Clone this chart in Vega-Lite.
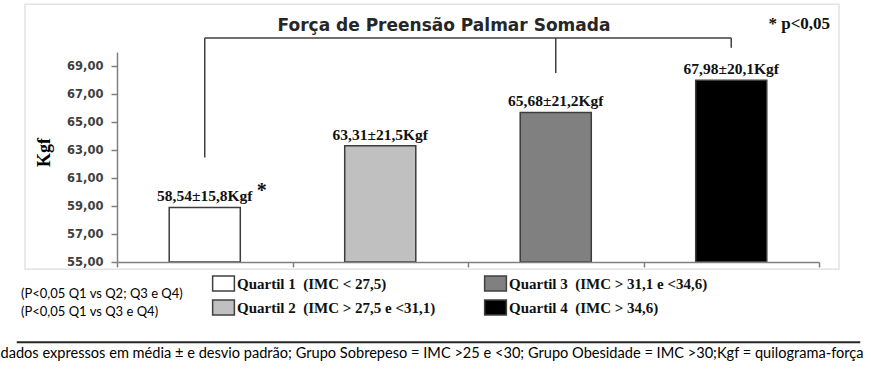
{
  "$schema": "https://vega.github.io/schema/vega-lite/v6.json",
  "width": 702,
  "height": 210,
  "autosize": {"type": "none"},
  "padding": {"left": 117, "top": 52, "right": 53, "bottom": 109},
  "background": "white",
  "config": {"view": {"stroke": null}, "font": "Liberation Serif"},
  "title": {
    "text": "Força de Preensão Palmar Somada",
    "font": "DejaVu Sans",
    "fontSize": 17,
    "fontWeight": "bold",
    "color": "#262626",
    "anchor": "middle",
    "dx": -24,
    "dy": 27,
    "offset": -17,
    "baseline": "alphabetic"
  },
  "datasets": {
    "bars": [
      {"quartil": "Quartil 1", "legenda": "Quartil 1\u2002(IMC < 27,5)", "media": 58.9, "rotulo": "58,54±15,8Kgf", "sig": "*"},
      {"quartil": "Quartil 2", "legenda": "Quartil 2\u2002(IMC > 27,5 e <31,1)", "media": 63.31, "rotulo": "63,31±21,5Kgf", "sig": ""},
      {"quartil": "Quartil 3", "legenda": "Quartil 3\u2002(IMC > 31,1 e <34,6)", "media": 65.68, "rotulo": "65,68±21,2Kgf", "sig": ""},
      {"quartil": "Quartil 4", "legenda": "Quartil 4\u2002(IMC > 34,6)", "media": 67.98, "rotulo": "67,98±20,1Kgf", "sig": ""}
    ],
    "moldura": [
      {"de": "Quartil 1", "ate": "Quartil 4", "topo": 73.41, "base": 54.48}
    ],
    "chave_h": [
      {"de": "Quartil 1", "ate": "Quartil 4", "nivel": 71.0}
    ],
    "chave_v": [
      {"q": "Quartil 1", "base": 62.47, "topo": 71.0},
      {"q": "Quartil 3", "base": 68.5, "topo": 71.0},
      {"q": "Quartil 4", "base": 70.3, "topo": 71.0}
    ],
    "nota_p": [
      {"q": "Quartil 4", "nivel": 71.66, "texto": "* p<0,05"}
    ],
    "separador": [
      {"de": "Quartil 1", "ate": "Quartil 4", "nivel": 49.26}
    ]
  },
  "layer": [
    {
      "data": {"name": "moldura"},
      "mark": {"type": "rect", "fill": null, "stroke": "#e2e2e2", "strokeWidth": 1.5, "xOffset": -92, "x2Offset": 20},
      "encoding": {
        "x": {"field": "de", "type": "nominal", "bandPosition": 0},
        "x2": {"field": "ate", "bandPosition": 1},
        "y": {"field": "topo", "type": "quantitative"},
        "y2": {"field": "base"}
      }
    },
    {
      "data": {"name": "bars"},
      "mark": {"type": "bar", "width": {"band": 0.405}, "stroke": "#3c3c3c", "strokeWidth": 1.5},
      "encoding": {
        "x": {
          "field": "quartil",
          "type": "nominal",
          "scale": {"paddingInner": 0, "paddingOuter": 0},
          "axis": {
            "labels": false,
            "tickBand": "extent",
            "domainColor": "#808080",
            "domainWidth": 1.5,
            "tickColor": "#808080",
            "tickWidth": 1.5,
            "tickSize": 5,
            "title": "dados expressos em média ± e desvio padrão; Grupo Sobrepeso = IMC >25 e <30; Grupo Obesidade = IMC >30;Kgf = quilograma-força",
            "titleFont": "Lato",
            "titleFontSize": 14.6,
            "titleFontWeight": "normal",
            "titleColor": "#000000",
            "titleX": -117,
            "titleY": 91,
            "titleAlign": "left",
            "titleBaseline": "middle",
            "titleLimit": 900
          }
        },
        "y": {
          "field": "media",
          "type": "quantitative",
          "scale": {"domain": [55, 70], "nice": false, "zero": false},
          "axis": {
            "values": [55, 57, 59, 61, 63, 65, 67, 69],
            "tickCount": 8,
            "labelOverlap": false,
            "labelExpr": "replace(format(datum.value, '.2f'), '.', ',')",
            "labelFont": "DejaVu Sans",
            "labelFontWeight": "bold",
            "labelFontSize": 11.5,
            "labelColor": "#404040",
            "labelPadding": 8,
            "tickSize": 6,
            "tickWidth": 1.5,
            "tickColor": "#808080",
            "domainColor": "#808080",
            "domainWidth": 1.5,
            "grid": false,
            "title": "Kgf",
            "titleFont": "Liberation Serif",
            "titleFontSize": 18,
            "titleFontWeight": "bold",
            "titleColor": "#000000",
            "titleX": -73,
            "titleY": 100,
            "titleAngle": 270,
            "titleAlign": "center",
            "titleBaseline": "middle"
          }
        },
        "y2": {"datum": 55},
        "fill": {
          "field": "legenda",
          "type": "nominal",
          "scale": {
            "domain": ["Quartil 1\u2002(IMC < 27,5)", "Quartil 2\u2002(IMC > 27,5 e <31,1)", "Quartil 3\u2002(IMC > 31,1 e <34,6)", "Quartil 4\u2002(IMC > 34,6)"],
            "range": ["#ffffff", "#c0c0c0", "#808080", "#000000"]
          },
          "legend": {
            "orient": "none",
            "legendX": -96,
            "legendY": 223,
            "columns": 2,
            "padding": 0,
            "title": ["(P<0,05 Q1 vs Q2; Q3 e Q4)", "(P<0,05 Q1 vs Q3 e Q4)"],
            "titleOrient": "left",
            "titleAlign": "left",
            "titleFont": "Lato",
            "titleFontSize": 13,
            "titleFontWeight": "normal",
            "titleColor": "#000000",
            "titleLineHeight": 18,
            "titleBaseline": "top",
            "titlePadding": 31,
            "titleLimit": 300,
            "labelFont": "Liberation Serif",
            "labelFontWeight": "bold",
            "labelFontSize": 15,
            "labelColor": "#111111",
            "labelLimit": 400,
            "labelOffset": 5,
            "symbolType": "M-1.45,-1H1.45V1H-1.45Z",
            "symbolSize": 225,
            "symbolStrokeColor": "#404040",
            "symbolStrokeWidth": 1.5,
            "symbolOpacity": 1,
            "rowPadding": 3,
            "columnPadding": 45
          }
        }
      }
    },
    {
      "data": {"name": "bars"},
      "mark": {"type": "text", "font": "Liberation Serif", "fontWeight": "bold", "fontSize": 15.5, "baseline": "alphabetic", "dy": -6, "color": "#111111"},
      "encoding": {
        "x": {"field": "quartil", "type": "nominal"},
        "y": {"field": "media", "type": "quantitative"},
        "text": {"field": "rotulo"}
      }
    },
    {
      "data": {"name": "bars"},
      "mark": {"type": "text", "font": "Liberation Serif", "fontWeight": "bold", "fontSize": 20, "baseline": "alphabetic", "dx": 57, "dy": -10, "color": "#111111"},
      "encoding": {
        "x": {"field": "quartil", "type": "nominal"},
        "y": {"field": "media", "type": "quantitative"},
        "text": {"field": "sig"}
      }
    },
    {
      "data": {"name": "chave_h"},
      "mark": {"type": "rule", "color": "#404040", "strokeWidth": 1.5},
      "encoding": {
        "x": {"field": "de", "type": "nominal"},
        "x2": {"field": "ate"},
        "y": {"field": "nivel", "type": "quantitative"}
      }
    },
    {
      "data": {"name": "chave_v"},
      "mark": {"type": "rule", "color": "#404040", "strokeWidth": 1.5},
      "encoding": {
        "x": {"field": "q", "type": "nominal"},
        "y": {"field": "base", "type": "quantitative"},
        "y2": {"field": "topo"}
      }
    },
    {
      "data": {"name": "nota_p"},
      "mark": {"type": "text", "font": "Liberation Serif", "fontWeight": "bold", "fontSize": 17, "baseline": "alphabetic", "align": "center", "dx": 68, "color": "#111111"},
      "encoding": {
        "x": {"field": "q", "type": "nominal"},
        "y": {"field": "nivel", "type": "quantitative"},
        "text": {"field": "texto"}
      }
    },
    {
      "data": {"name": "separador"},
      "mark": {"type": "rule", "color": "#262626", "strokeWidth": 2, "xOffset": -188, "x2Offset": 129},
      "encoding": {
        "x": {"field": "de", "type": "nominal"},
        "x2": {"field": "ate"},
        "y": {"field": "nivel", "type": "quantitative"}
      }
    }
  ]
}
